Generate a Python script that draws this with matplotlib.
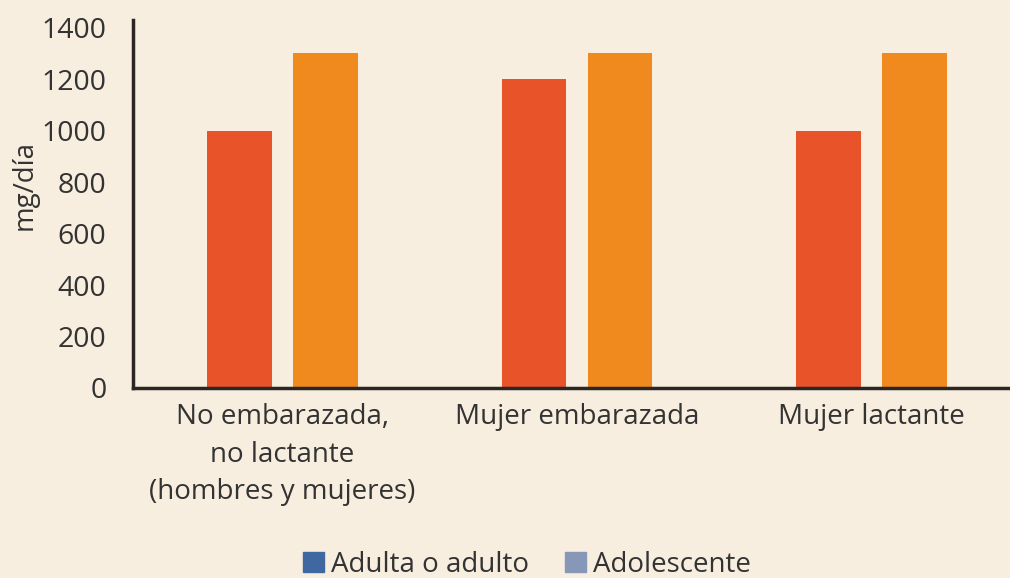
import matplotlib
matplotlib.use("Agg")
import matplotlib.pyplot as plt
import numpy as np
from matplotlib.patches import Patch

categories = ["No embarazada,\nno lactante\n(hombres y mujeres)", "Mujer embarazada", "Mujer lactante"]
adulto = [1000, 1200, 1000]
adolescente = [1300, 1300, 1300]
series_names = ["Adulta o adulto", "Adolescente"]
yticks = [0, 200, 400, 600, 800, 1000, 1200, 1400]

bg = "#F7EEDF"
txt = "#333333"
plt.rcParams['font.family'] = ['Open Sans', 'DejaVu Sans']

fig = plt.figure(figsize=(10.1, 5.78), dpi=100, facecolor=bg)
ax = fig.add_axes([133/1010, 1-388/578, (1010-133)/1010, (388-20)/578])
ax.set_facecolor(bg)

x = np.arange(len(categories))
w = 0.22
off = 0.146
ax.bar(x - off, adulto, width=w, color="#E9532A")
ax.bar(x + off, adolescente, width=w, color="#F08A1E")

ax.set_xlim(-0.508, 2.47)
ax.set_ylim(0, 1430)
ax.set_yticks(yticks)
ax.set_yticklabels([str(v) for v in yticks], fontsize=20.5, color=txt)
ax.set_xticks(x)
ax.set_xticklabels(categories, fontsize=20, color=txt, linespacing=1.45, va='top')
ax.tick_params(axis='y', length=0, pad=19)
ax.tick_params(axis='x', length=0, pad=11)
for s in ["top", "right"]:
    ax.spines[s].set_visible(False)
for s in ["left", "bottom"]:
    ax.spines[s].set_color("#2b2624")
    ax.spines[s].set_linewidth(2.5)

fig.text(25/1010, 1-185/578, "mg/día", rotation=90, ha='center', va='center', fontsize=20, color=txt)

handles = [Patch(color="#3F68A0"), Patch(color="#8797B8")]
fig.legend(handles, series_names, loc='center', bbox_to_anchor=(0.522, 1-565/578), ncol=2,
           frameon=False, fontsize=20, labelcolor=txt, handlelength=0.75, handleheight=0.75,
           handletextpad=0.25, columnspacing=1.3)

fig.savefig("out.png", dpi=100, facecolor=bg)
